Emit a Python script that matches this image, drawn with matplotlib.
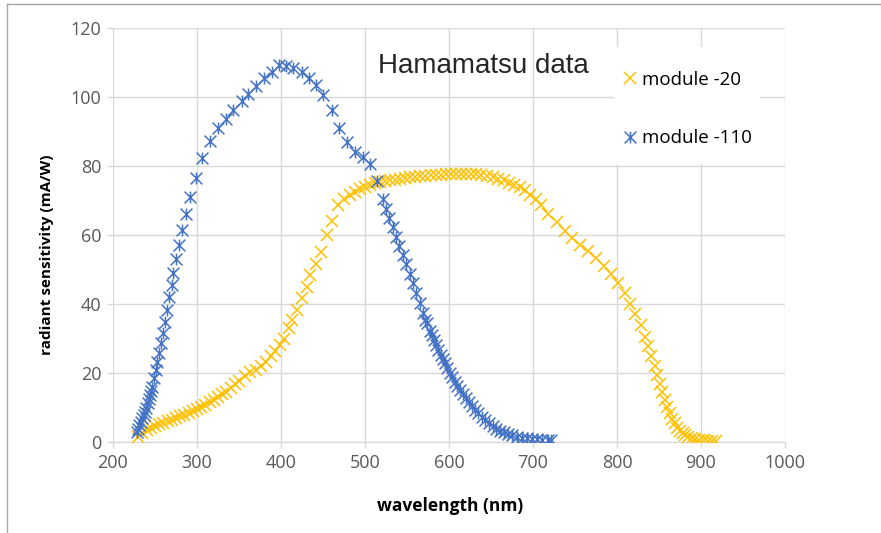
import matplotlib
matplotlib.use("Agg")
import matplotlib.pyplot as plt
from matplotlib.path import Path
from matplotlib.lines import Line2D
from matplotlib.patches import Rectangle

# module -20 (yellow)
wl_20 = [230, 234, 240, 245, 250, 255, 260, 265, 270, 275, 280, 285, 290, 295, 300, 305,
         310, 315, 320, 325, 330, 335, 340, 345, 350, 357, 363, 370, 376, 382, 388, 393,
         399, 403, 409, 413, 419, 425, 431, 435, 442, 448, 455, 461, 468, 475, 482, 488,
         494, 500, 506, 512, 518, 524, 530, 536, 542, 548, 554, 560, 566, 572, 578, 584,
         590, 596, 602, 608, 614, 620, 626, 632, 638, 645, 652, 658, 665, 671, 677, 684,
         690, 697, 703, 710, 718, 728, 738, 747, 756, 765, 775, 784, 793, 801, 809, 816,
         822, 828, 833, 837, 841, 845, 848, 851, 854, 857, 860, 863, 866, 869, 872, 875,
         878, 881, 885, 889, 893, 898, 903, 908, 913, 918]
sens_20 = [1.5, 2.5, 3.5, 4.2, 4.6, 5.1, 5.5, 6.0, 6.5, 6.9, 7.4, 7.9, 8.4, 9.1, 9.7, 10.2,
           10.8, 11.5, 12.2, 13.0, 13.9, 14.6, 15.6, 16.8, 17.7, 19.1, 20.2, 21.0, 21.9, 23.2, 24.8, 26.3,
           28.2, 30.0, 33.0, 35.4, 38.3, 41.6, 45.0, 48.4, 51.6, 55.2, 60.0, 64.2, 68.8, 70.5, 71.5, 72.5,
           73.3, 74.0, 74.5, 75.0, 75.3, 75.6, 75.8, 76.0, 76.3, 76.5, 76.7, 76.9, 77.0, 77.2, 77.3, 77.4,
           77.5, 77.6, 77.6, 77.7, 77.7, 77.8, 77.8, 77.7, 77.5, 77.2, 76.8, 76.3, 75.8, 75.2, 74.6, 73.9,
           73.0, 71.6, 70.3, 68.6, 66.0, 63.8, 61.3, 59.0, 57.0, 55.3, 53.2, 51.0, 48.6, 46.2, 43.3, 40.0,
           37.0, 33.8, 30.5, 27.8, 25.0, 22.0, 19.3, 16.8, 14.5, 12.2, 10.2, 8.4, 6.8, 5.4, 4.2, 3.3,
           2.6, 2.0, 1.5, 1.1, 0.8, 0.6, 0.5, 0.4, 0.3, 0.3]

# module -110 (blue)
wl_110 = [228, 229.5, 231, 233, 235, 236.5, 238, 239.7, 241.3, 242.6, 244, 245.5, 246.8, 248.8,
          250.8, 252.8, 255.1, 257.1, 259.9, 261.9, 264.6, 267, 269.9, 271.8, 275, 279, 282.5,
          286.9, 291.7, 298.8, 305.6, 315.5, 325.4, 334.5, 343.3, 353.2, 361.1, 370.2, 379.8,
          388.9, 398, 405.5, 414.7, 424.6, 433.7, 441.7, 450.4, 460.3, 469.4, 478.2, 488.1, 497.2,
          506, 513.9, 521, 525, 529, 533, 537, 541, 545, 549, 553, 557, 561, 565.5, 569.4, 572,
          574.2, 577, 579.4, 582, 584.5, 587, 590.1, 592.5, 595.2, 598, 601.2, 604, 607.1, 610,
          613.1, 616.5, 620.2, 623.5, 627, 631, 634.9, 639, 642.9, 647.5, 652, 656.5, 660.7,
          665.5, 670.6, 675.5, 680.6, 686.5, 692.5, 698.5, 704.4, 711, 718, 722]
sens_110 = [3.0, 3.9, 4.9, 5.9, 6.9, 7.8, 8.8, 10.0, 11.2, 12.4, 13.6, 14.8, 16.0, 18.5,
            20.9, 23.3, 25.9, 28.8, 31.5, 34.9, 38.3, 42.1, 45.5, 48.9, 53.0, 57.1, 61.4,
            66.1, 70.9, 76.5, 82.4, 87.3, 90.9, 93.6, 96.2, 98.8, 100.9, 103.2, 105.6,
            107.3, 109.2, 109.1, 108.5, 107.2, 105.4, 103.5, 100.6, 96.2, 90.9, 87.1, 84.2, 82.5,
            80.5, 75.7, 70.4, 67.6, 65.0, 62.2, 59.5, 56.9, 54.1, 51.5, 48.7, 46.0, 43.3, 40.2, 37.3, 35.5,
            34.4, 32.2, 31.0, 29.5, 28.1, 26.6, 25.2, 24.0, 22.8, 21.4, 20.1, 18.8, 17.5, 16.3,
            15.1, 13.9, 12.7, 11.5, 10.4, 9.3, 8.3, 7.3, 6.4, 5.5, 4.6, 3.9, 3.3,
            2.8, 2.3, 1.9, 1.5, 1.3, 1.1, 0.95, 0.8, 0.65, 0.55, 0.5]

x_ticks = [200, 300, 400, 500, 600, 700, 800, 900, 1000]
y_ticks = [0, 20, 40, 60, 80, 100, 120]

YELLOW = "#FFC000"
BLUE = "#4472C4"
GRID = "#D9D9D9"
W, H = 881, 533

# Excel-like star marker: X plus a vertical bar
star = Path([(-1, -1), (1, 1), (-1, 1), (1, -1), (0, -1), (0, 1)],
            [Path.MOVETO, Path.LINETO, Path.MOVETO, Path.LINETO, Path.MOVETO, Path.LINETO])

fig = plt.figure(figsize=(W / 100, H / 100), dpi=100)
ax = fig.add_axes([113 / W, 1 - 442 / H, 672 / W, 414 / H])

ax.plot(wl_20, sens_20, linestyle="none", marker="x", ms=8.5, mew=1.1,
        color=YELLOW, label="module -20", zorder=3)
ax.plot(wl_110, sens_110, linestyle="none", marker=star, ms=8.5, mew=1.1,
        mfc="none", color=BLUE, label="module -110", zorder=4)

ax.set_xlim(200, 1000)
ax.set_ylim(0, 120)
ax.set_xticks(x_ticks)
ax.set_yticks(y_ticks)
ax.grid(True, color=GRID, lw=1.0)
ax.set_axisbelow(True)
for s in ["top", "right", "left"]:
    ax.spines[s].set_visible(False)
ax.spines["bottom"].set_color(GRID)
ax.spines["bottom"].set_linewidth(1.0)
ax.tick_params(axis="both", direction="out", length=4.5, width=1.0, color=GRID,
               labelcolor="#595959", labelsize=13, pad=4)
for lab in ax.get_xticklabels() + ax.get_yticklabels():
    lab.set_family("Open Sans")

ax.set_xlabel("wavelength (nm)", fontsize=12.5, fontweight="bold", family="Open Sans")
ax.set_ylabel("radiant sensitivity (mA/W)", fontsize=11, fontweight="bold", family="Open Sans")
ax.xaxis.set_label_coords(0.501, -0.133)
ax.yaxis.set_label_coords(-0.088, 0.452)

fig.text(378 / W, 1 - 66 / H, "Hamamatsu data", fontsize=20, family="Liberation Sans",
         color="#262626", va="center", ha="left")


# helper: pixel position -> axes fraction
def px2ax(x, y):
    return (x - 113) / 672, (442 - y) / 414


# white legend box hiding the gridlines
bx0, by0 = px2ax(614, 164)
bx1, by1 = px2ax(760, 47)
ax.add_patch(Rectangle((bx0, by0), bx1 - bx0, by1 - by0, transform=ax.transAxes,
                       facecolor="white", edgecolor="none", zorder=5))

leg = ax.legend(loc="upper left", bbox_to_anchor=px2ax(623, 71), frameon=False,
                handlelength=0.75, handletextpad=0.27, labelspacing=2.15,
                borderpad=0, borderaxespad=0, prop={"family": "Open Sans", "size": 13.5})
leg.set_zorder(6)

# chart border (top and left visible)
fig.add_artist(Line2D([7 / W, 1], [1 - 4 / H, 1 - 4 / H], color="#A6A6A6", lw=1.0))
fig.add_artist(Line2D([7 / W, 7 / W], [1 - 4 / H, 0], color="#A6A6A6", lw=1.0))

fig.savefig("out.png", dpi=100)
